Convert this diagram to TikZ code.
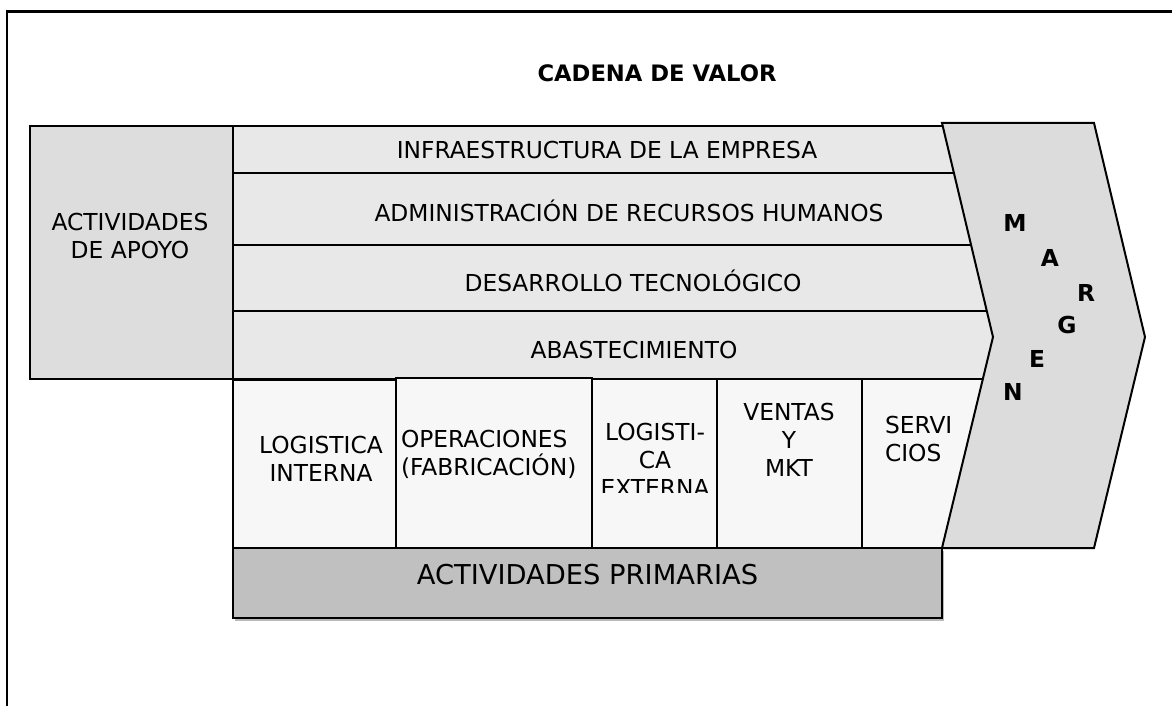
\documentclass[tikz,border=0pt]{standalone}
\usepackage{fontspec}
\setmainfont{DejaVu Sans}
\definecolor{apoyoc}{HTML}{DDDDDD}
\definecolor{rowc}{HTML}{E8E8E8}
\definecolor{primc}{HTML}{F7F7F7}
\definecolor{barc}{HTML}{C0C0C0}
\definecolor{chevc}{HTML}{DCDCDC}
\begin{document}
\begin{tikzpicture}[x=0.75pt,y=-0.75pt,line width=1.5pt,
  boxline/.style={draw=black,line width=1.5pt},
  lbl/.style={font=\fontsize{17.5}{21}\selectfont,align=center,inner sep=0pt},
  lbll/.style={font=\fontsize{17.5}{21}\selectfont,align=left,inner sep=0pt,anchor=west},
  mg/.style={font=\bfseries\fontsize{17.5}{21}\selectfont,inner sep=0pt}]
\useasboundingbox (0,0) rectangle (1172,706);
% outer frame
\draw[line width=1.6pt] (7,706) -- (7,11.5) -- (1172,11.5);
% title
\node[font=\bfseries\fontsize{17}{20}\selectfont,inner sep=0pt] (title) at (657,73.5) {CADENA DE VALOR};
% support activities box
\draw[boxline,fill=apoyoc] (30,126) rectangle (233,379);
% support rows
\draw[boxline,fill=rowc] (233,126) rectangle (1000,173);
\draw[boxline,fill=rowc] (233,173) rectangle (1000,245);
\draw[boxline,fill=rowc] (233,245) rectangle (1000,311);
\draw[boxline,fill=rowc] (233,311) rectangle (1000,379);
% primary boxes
\draw[boxline,fill=primc] (233,380) rectangle (396,548);
\draw[boxline,fill=primc] (396,378) rectangle (592,548);
\draw[boxline,fill=primc] (592,379) rectangle (717,548);
\draw[boxline,fill=primc] (717,379) rectangle (862,548);
\draw[boxline,fill=primc] (862,379) rectangle (1000,548);
% margin chevron
\draw[boxline,fill=chevc,line join=miter] (942,123) -- (1094,123) -- (1145,337) -- (1094,548) -- (942,548) -- (993,337) -- cycle;
% primary bar with shadow
\fill[gray!55] (235,550.5) rectangle (944,620.5);
\draw[boxline,fill=barc] (233,548) rectangle (942,618);
% texts
\node[lbl] (apoyo) at (130,236) {ACTIVIDADES\\DE APOYO};
\node[lbl] (infra) at (607,150) {INFRAESTRUCTURA DE LA EMPRESA};
\node[lbl] (rrhh) at (629,211) {ADMINISTRACIÓN DE RECURSOS HUMANOS};
\node[lbl] (tec) at (633,281) {DESARROLLO TECNOLÓGICO};
\node[lbl] (abas) at (634,350) {ABASTECIMIENTO};
\node[lbl] (login) at (321,459) {LOGISTICA\\INTERNA};
\node[lbll] (oper) at (400,454) {OPERACIONES\\(FABRICACIÓN)};
\begin{scope}
\clip (594,381) rectangle (715,492);
\node[lbl] (logex) at (655,460) {LOGISTI-\\CA\\EXTERNA};
\end{scope}
\node[lbl] (ventas) at (789,440) {VENTAS\\Y\\MKT};
\node[lbll] (serv) at (884,439.5) {SERVI\\CIOS};
\node[lbl,font=\fontsize{20.5}{24}\selectfont] (prim) at (587.5,575) {ACTIVIDADES PRIMARIAS};
\node[mg] (m1) at (1015,223) {M};
\node[mg] (m2) at (1050,258) {A};
\node[mg] (m3) at (1086,293) {R};
\node[mg] (m4) at (1067,325) {G};
\node[mg] (m5) at (1037,359) {E};
\node[mg] (m6) at (1013,392) {N};
\end{tikzpicture}
\end{document}
